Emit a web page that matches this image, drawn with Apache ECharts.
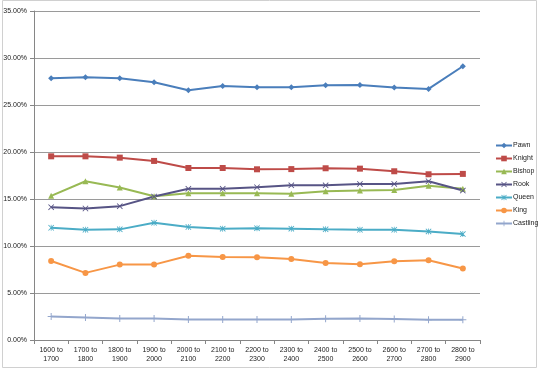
<!DOCTYPE html>
<html>
<head>
<meta charset="utf-8">
<script src="https://cdn.jsdelivr.net/npm/echarts@6/dist/echarts.min.js"></script>
<style>html,body{margin:0;padding:0;background:#fff}#c{width:540px;height:369px}</style>
</head>
<body>
<div id="c"></div>
<script>
const categories = ['1600 to\n1700','1700 to\n1800','1800 to\n1900','1900 to\n2000','2000 to\n2100','2100 to\n2200','2200 to\n2300','2300 to\n2400','2400 to\n2500','2500 to\n2600','2600 to\n2700','2700 to\n2800','2800 to\n2900'];
const pawn     = [27.85, 27.95, 27.85, 27.42, 26.57, 27.03, 26.89, 26.89, 27.10, 27.14, 26.85, 26.71, 29.12];
const knight   = [19.54, 19.54, 19.40, 19.05, 18.30, 18.30, 18.16, 18.18, 18.27, 18.23, 17.95, 17.63, 17.67];
const bishop   = [15.34, 16.89, 16.22, 15.30, 15.62, 15.62, 15.62, 15.55, 15.83, 15.90, 15.97, 16.40, 16.08];
const rook     = [14.13, 13.99, 14.24, 15.26, 16.08, 16.08, 16.25, 16.46, 16.46, 16.60, 16.60, 16.89, 15.90];
const queen    = [11.94, 11.73, 11.77, 12.47, 12.02, 11.84, 11.90, 11.84, 11.77, 11.73, 11.73, 11.55, 11.27];
const king     = [8.41, 7.14, 8.02, 8.02, 8.97, 8.83, 8.80, 8.62, 8.20, 8.06, 8.37, 8.48, 7.60];
const castling = [2.51, 2.40, 2.30, 2.30, 2.19, 2.19, 2.19, 2.19, 2.26, 2.30, 2.23, 2.16, 2.16];
const yTicks = {min: 0, max: 35, interval: 5};

const FONT = 'Liberation Sans, Arial, sans-serif';
const PLUS = 'path://M4.3,0 L5.7,0 L5.7,4.3 L10,4.3 L10,5.7 L5.7,5.7 L5.7,10 L4.3,10 L4.3,5.7 L0,5.7 L0,4.3 L4.3,4.3 Z';
const XS = 'path://M0,1 L1,0 L5,4 L9,0 L10,1 L6,5 L10,9 L9,10 L5,6 L1,10 L0,9 L4,5 Z';
const AST = 'path://M0,1 L1,0 L5,4 L9,0 L10,1 L6,5 L10,9 L9,10 L5,6 L1,10 L0,9 L4,5 Z M4.4,0 L5.6,0 L5.6,10 L4.4,10 Z';

function mk(name, data, color, symbol, size) {
  return {
    name, type: 'line', data, symbol, symbolSize: size,
    lineStyle: {color, width: 2},
    itemStyle: {color},
    animation: false
  };
}

const chart = echarts.init(document.getElementById('c'), null, {renderer: 'canvas'});
chart.setOption({
  backgroundColor: '#fff',
  animation: false,
  graphic: [{type: 'rect', silent: true, z: -10, shape: {x: 2.5, y: 0.5, width: 534, height: 367}, style: {fill: 'none', stroke: '#d0d0d0', lineWidth: 1}}],
  grid: {left: 34, right: 60, top: 11, bottom: 29, show: false},
  legend: {
    orient: 'vertical', left: 490, top: 137, itemWidth: 16, itemHeight: 7, itemGap: 6,
    textStyle: {fontSize: 7, color: '#222', fontFamily: FONT, padding: [0,0,0,-4]},
    data: ['Pawn','Knight','Bishop','Rook','Queen','King','Castling']
  },
  xAxis: {
    type: 'category', data: categories, boundaryGap: true,
    axisLine: {lineStyle: {color: '#868686'}},
    axisTick: {show: true, length: 4, lineStyle: {color: '#868686'}},
    splitLine: {show: false},
    axisLabel: {fontSize: 7, color: '#222', fontFamily: FONT, lineHeight: 9, margin: 6, interval: 0}
  },
  yAxis: {
    type: 'value', min: yTicks.min, max: yTicks.max, interval: yTicks.interval,
    axisLine: {show: true, lineStyle: {color: '#868686'}},
    axisTick: {show: true, length: 4, lineStyle: {color: '#868686'}},
    splitLine: {lineStyle: {color: '#9a9a9a'}},
    axisLabel: {fontSize: 7, color: '#222', fontFamily: FONT, margin: 7, formatter: v => v.toFixed(2) + '%'}
  },
  series: [
    mk('Pawn', pawn, '#4A7EBB', 'diamond', 6),
    mk('Knight', knight, '#BE4B48', 'rect', 6),
    mk('Bishop', bishop, '#98B954', 'triangle', 6),
    mk('Rook', rook, '#575485', XS, 6),
    mk('Queen', queen, '#4BACC6', AST, 6),
    mk('King', king, '#F79646', 'circle', 6),
    mk('Castling', castling, '#93A6CC', PLUS, 7)
  ]
});
</script>
</body>
</html>
